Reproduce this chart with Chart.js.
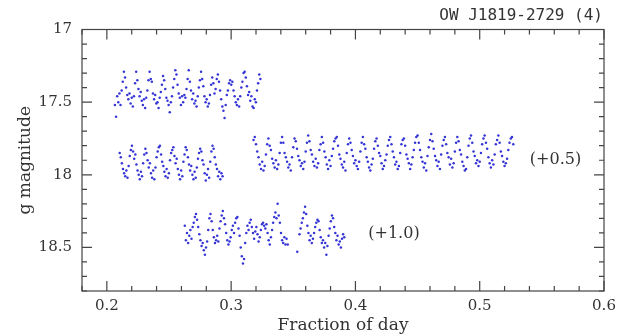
<!DOCTYPE html>
<html>
<head>
<meta charset="utf-8">
<script src="https://cdn.jsdelivr.net/npm/chart.js@4.4.1/dist/chart.umd.min.js"></script>
<style>
  html, body { margin: 0; padding: 0; background: #fff; }
  #wrap { width: 629px; height: 336px; }
</style>
</head>
<body>
<div id="wrap"><canvas id="lightCurve"></canvas></div>
<script>
// 觀測資料: [時間(fraction of day), g 星等]
const topBand = [
  [0.2065,17.52],[0.2074,17.60],[0.2083,17.46],[0.2092,17.50],[0.2101,17.44],[0.2110,17.52],
  [0.2119,17.42],[0.2128,17.36],[0.2137,17.29],[0.2146,17.33],[0.2155,17.40],[0.2164,17.45],
  [0.2173,17.48],[0.2182,17.44],[0.2191,17.51],[0.2200,17.47],[0.2209,17.53],[0.2218,17.46],
  [0.2227,17.37],[0.2236,17.29],[0.2245,17.35],[0.2254,17.41],[0.2263,17.46],[0.2272,17.43],
  [0.2281,17.49],[0.2290,17.52],[0.2299,17.48],[0.2308,17.54],[0.2317,17.47],[0.2326,17.42],
  [0.2335,17.35],[0.2344,17.29],[0.2353,17.34],[0.2362,17.36],[0.2371,17.44],[0.2380,17.48],
  [0.2389,17.45],[0.2398,17.51],[0.2407,17.50],[0.2416,17.54],[0.2425,17.47],[0.2434,17.43],
  [0.2443,17.38],[0.2452,17.32],[0.2461,17.35],[0.2470,17.41],[0.2479,17.47],[0.2488,17.49],
  [0.2497,17.52],[0.2506,17.57],[0.2515,17.50],[0.2524,17.46],[0.2533,17.40],[0.2542,17.34],
  [0.2551,17.28],[0.2560,17.31],[0.2569,17.38],[0.2578,17.44],[0.2587,17.47],[0.2596,17.52],
  [0.2605,17.46],[0.2614,17.50],[0.2623,17.45],[0.2632,17.47],[0.2641,17.41],[0.2650,17.34],
  [0.2659,17.28],[0.2668,17.36],[0.2677,17.42],[0.2686,17.48],[0.2695,17.44],[0.2704,17.51],
  [0.2713,17.49],[0.2722,17.53],[0.2731,17.46],[0.2740,17.40],[0.2749,17.35],[0.2758,17.29],
  [0.2767,17.34],[0.2776,17.39],[0.2785,17.46],[0.2794,17.50],[0.2803,17.48],[0.2812,17.53],
  [0.2821,17.51],[0.2830,17.45],[0.2839,17.38],[0.2848,17.33],[0.2857,17.37],[0.2866,17.44],
  [0.2875,17.41],[0.2884,17.34],[0.2893,17.31],[0.2902,17.36],[0.2911,17.42],[0.2920,17.48],
  [0.2929,17.53],[0.2938,17.56],[0.2947,17.61],[0.2956,17.52],[0.2965,17.45],[0.2974,17.42],
  [0.2983,17.37],[0.2992,17.35],[0.3001,17.38],[0.3010,17.36],[0.3019,17.42],[0.3028,17.46],
  [0.3037,17.50],[0.3046,17.52],[0.3055,17.48],[0.3064,17.53],[0.3073,17.46],[0.3082,17.40],
  [0.3091,17.36],[0.3100,17.30],[0.3109,17.29],[0.3118,17.33],[0.3127,17.39],[0.3136,17.45],
  [0.3145,17.43],[0.3154,17.49],[0.3163,17.46],[0.3172,17.53],[0.3181,17.54],[0.3190,17.48],
  [0.3199,17.50],[0.3208,17.42],[0.3217,17.37],[0.3226,17.31],[0.3235,17.34]
];

const midLeft = [ // (+0.5)
  [0.2103,17.85],[0.2112,17.88],[0.2121,17.92],[0.2130,17.96],[0.2139,17.99],[0.2148,18.01],
  [0.2157,17.97],[0.2166,18.02],[0.2175,17.94],[0.2184,17.87],[0.2193,17.83],[0.2202,17.80],
  [0.2211,17.84],[0.2220,17.89],[0.2229,17.86],[0.2238,17.93],[0.2247,17.97],[0.2256,18.00],
  [0.2265,18.03],[0.2274,17.98],[0.2283,18.01],[0.2292,17.92],[0.2301,17.86],[0.2310,17.82],
  [0.2319,17.85],[0.2328,17.90],[0.2337,17.95],[0.2346,17.92],[0.2355,17.99],[0.2364,18.02],
  [0.2373,17.97],[0.2382,18.03],[0.2391,17.95],[0.2400,17.88],[0.2409,17.84],[0.2418,17.81],
  [0.2427,17.80],[0.2436,17.86],[0.2445,17.91],[0.2454,17.94],[0.2463,17.98],[0.2472,18.01],
  [0.2481,17.96],[0.2490,18.02],[0.2499,17.99],[0.2508,17.90],[0.2517,17.85],[0.2526,17.83],
  [0.2535,17.81],[0.2544,17.87],[0.2553,17.92],[0.2562,17.89],[0.2571,17.96],[0.2580,18.00],
  [0.2589,18.03],[0.2598,17.97],[0.2607,18.01],[0.2616,17.91],[0.2625,17.86],[0.2634,17.81],
  [0.2643,17.83],[0.2652,17.88],[0.2661,17.93],[0.2670,17.97],[0.2679,17.94],[0.2688,18.00],
  [0.2697,18.03],[0.2706,17.98],[0.2715,18.02],[0.2724,17.95],[0.2733,17.89],[0.2742,17.85],
  [0.2751,17.82],[0.2760,17.84],[0.2769,17.90],[0.2778,17.93],[0.2787,17.99],[0.2796,18.04],
  [0.2805,18.00],[0.2814,17.96],[0.2823,18.02],[0.2832,17.91],[0.2841,17.84],[0.2850,17.80],
  [0.2859,17.82],[0.2868,17.88],[0.2877,17.93],[0.2886,17.96],[0.2895,18.01],[0.2904,17.98],
  [0.2913,18.03],[0.2922,17.99],[0.2931,18.01]
];

const midRight = [ // (+0.5)
  [0.318,17.76],[0.319,17.74],[0.320,17.79],[0.321,17.84],[0.322,17.88],[0.323,17.93],[0.324,17.96],
  [0.325,17.91],[0.326,17.97],[0.327,17.94],[0.328,17.86],[0.329,17.79],[0.330,17.75],[0.331,17.80],
  [0.332,17.83],[0.333,17.89],[0.334,17.92],[0.335,17.95],[0.336,17.90],[0.337,17.96],[0.338,17.93],
  [0.339,17.85],[0.340,17.78],[0.341,17.74],[0.342,17.78],[0.343,17.85],[0.344,17.88],[0.345,17.91],
  [0.346,17.95],[0.347,17.93],[0.348,17.97],[0.349,17.88],[0.350,17.81],[0.351,17.75],[0.352,17.77],
  [0.353,17.82],[0.354,17.87],[0.355,17.90],[0.356,17.94],[0.357,17.92],[0.358,17.96],[0.359,17.91],
  [0.360,17.84],[0.361,17.78],[0.362,17.73],[0.363,17.77],[0.364,17.83],[0.365,17.86],[0.366,17.91],
  [0.367,17.94],[0.368,17.89],[0.369,17.95],[0.370,17.92],[0.371,17.83],[0.372,17.79],[0.373,17.74],
  [0.374,17.78],[0.375,17.84],[0.376,17.88],[0.377,17.93],[0.378,17.96],[0.379,17.90],[0.380,17.94],
  [0.381,17.87],[0.382,17.82],[0.383,17.77],[0.384,17.75],[0.385,17.74],[0.386,17.80],[0.387,17.86],
  [0.388,17.89],[0.389,17.93],[0.390,17.95],[0.391,17.91],[0.392,17.97],[0.393,17.85],[0.394,17.79],
  [0.395,17.75],[0.396,17.78],[0.397,17.83],[0.398,17.87],[0.399,17.92],[0.400,17.90],[0.401,17.94],
  [0.402,17.96],[0.403,17.91],[0.404,17.84],[0.405,17.78],[0.406,17.74],[0.407,17.79],[0.408,17.82],
  [0.409,17.88],[0.410,17.91],[0.411,17.95],[0.412,17.97],[0.413,17.93],[0.414,17.89],[0.415,17.82],
  [0.416,17.77],[0.417,17.75],[0.418,17.80],[0.419,17.85],[0.420,17.87],[0.421,17.92],[0.422,17.96],
  [0.423,17.94],[0.424,17.90],[0.425,17.86],[0.426,17.80],[0.427,17.76],[0.428,17.74],[0.429,17.79],
  [0.430,17.84],[0.431,17.88],[0.432,17.93],[0.433,17.91],[0.434,17.96],[0.435,17.94],[0.436,17.85],
  [0.437,17.79],[0.438,17.76],[0.439,17.75],[0.440,17.80],[0.441,17.86],[0.442,17.89],[0.443,17.92],
  [0.444,17.96],[0.445,17.93],[0.446,17.88],[0.447,17.83],[0.448,17.78],[0.449,17.74],[0.450,17.73],
  [0.451,17.78],[0.452,17.83],[0.453,17.88],[0.454,17.91],[0.455,17.95],[0.456,17.92],[0.457,17.97],
  [0.458,17.87],[0.459,17.81],[0.460,17.76],[0.461,17.72],[0.462,17.77],[0.463,17.82],[0.464,17.87],
  [0.465,17.90],[0.466,17.94],[0.467,17.91],[0.468,17.96],[0.469,17.86],[0.470,17.80],[0.471,17.76],
  [0.472,17.74],[0.473,17.79],[0.474,17.85],[0.475,17.88],[0.476,17.93],[0.477,17.89],[0.478,17.95],
  [0.479,17.92],[0.480,17.84],[0.481,17.78],[0.482,17.74],[0.483,17.77],[0.484,17.83],[0.485,17.86],
  [0.486,17.91],[0.487,17.94],[0.488,17.97],[0.489,17.96],[0.490,17.88],[0.491,17.80],[0.492,17.75],
  [0.493,17.73],[0.494,17.78],[0.495,17.84],[0.496,17.87],[0.497,17.92],[0.498,17.90],[0.499,17.94],
  [0.500,17.91],[0.501,17.85],[0.502,17.79],[0.503,17.75],[0.504,17.73],[0.505,17.78],[0.506,17.82],
  [0.507,17.88],[0.508,17.92],[0.509,17.95],[0.510,17.90],[0.511,17.93],[0.512,17.86],[0.513,17.79],
  [0.514,17.76],[0.515,17.73],[0.516,17.78],[0.517,17.84],[0.518,17.87],[0.519,17.91],[0.520,17.94],
  [0.521,17.92],[0.522,17.89],[0.523,17.83],[0.524,17.78],[0.525,17.75],[0.526,17.74],[0.527,17.79]
];

const lowBand = [ // (+1.0)
  [0.2627,18.35],[0.2636,18.45],[0.2645,18.40],[0.2654,18.47],[0.2663,18.42],[0.2672,18.38],
  [0.2681,18.44],[0.2690,18.36],[0.2699,18.33],[0.2708,18.29],[0.2717,18.27],[0.2726,18.31],
  [0.2735,18.36],[0.2744,18.41],[0.2753,18.45],[0.2762,18.49],[0.2771,18.47],[0.2780,18.52],
  [0.2789,18.55],[0.2798,18.50],[0.2807,18.46],[0.2816,18.38],[0.2825,18.30],[0.2834,18.27],
  [0.2843,18.32],[0.2852,18.38],[0.2861,18.43],[0.2870,18.47],[0.2879,18.45],[0.2888,18.42],
  [0.2897,18.46],[0.2906,18.37],[0.2915,18.32],[0.2924,18.28],[0.2933,18.25],[0.2942,18.30],
  [0.2951,18.34],[0.2960,18.40],[0.2969,18.45],[0.2978,18.48],[0.2987,18.46],[0.2996,18.43],
  [0.3005,18.38],[0.3014,18.35],[0.3023,18.40],[0.3032,18.33],[0.3041,18.30],[0.3050,18.29],
  [0.3059,18.37],[0.3068,18.42],[0.3077,18.50],[0.3086,18.56],[0.3095,18.61],[0.3104,18.58],
  [0.3113,18.47],[0.3122,18.40],[0.3131,18.35],[0.3140,18.38],[0.3149,18.33],[0.3158,18.31],
  [0.3167,18.36],[0.3176,18.40],[0.3185,18.44],[0.3194,18.39],[0.3203,18.36],[0.3212,18.41],
  [0.3221,18.46],[0.3230,18.43],[0.3239,18.38],[0.3248,18.34],[0.3257,18.33],[0.3266,18.35],
  [0.3275,18.37],[0.3284,18.34],[0.3293,18.40],[0.3302,18.45],[0.3311,18.48],[0.3320,18.43],
  [0.3329,18.38],[0.3338,18.33],[0.3347,18.29],[0.3356,18.26],[0.3365,18.30],[0.3374,18.20],
  [0.3383,18.28],[0.3392,18.33],[0.3401,18.40],[0.3410,18.45],[0.3419,18.47],[0.3428,18.43],
  [0.3437,18.48],[0.3446,18.44],[0.3455,18.48],
  [0.3532,18.53],[0.3550,18.41],[0.3559,18.37],[0.3568,18.33],[0.3577,18.30],[0.3586,18.26],
  [0.3595,18.22],[0.3604,18.27],[0.3613,18.35],[0.3622,18.40],[0.3631,18.45],[0.3640,18.42],
  [0.3649,18.47],[0.3658,18.44],[0.3667,18.40],[0.3676,18.36],[0.3685,18.33],[0.3694,18.31],
  [0.3703,18.32],[0.3712,18.38],[0.3721,18.43],[0.3730,18.47],[0.3739,18.45],[0.3748,18.50],
  [0.3757,18.47],[0.3766,18.55],[0.3775,18.49],[0.3784,18.42],[0.3793,18.37],[0.3802,18.32],
  [0.3811,18.28],[0.3820,18.30],[0.3829,18.36],[0.3838,18.40],[0.3847,18.45],[0.3856,18.42],
  [0.3865,18.48],[0.3874,18.46],[0.3883,18.50],[0.3892,18.44],[0.3901,18.41],[0.3910,18.43]
];

const xTicks = [0.2, 0.3, 0.4, 0.5, 0.6];
const yTicks = [17, 17.5, 18, 18.5];
const offsetLabels = [
  { text: '(+0.5)', x: 0.561, y: 17.90 },
  { text: '(+1.0)', x: 0.431, y: 18.405 }
];
const chartTitle = 'OW J1819-2729 (4)';

const dotColor = '#3535d6';
const inkColor = '#333';
const serif = "'DejaVu Serif', 'Liberation Serif', serif";

// 外框、向內刻度、標題與偏移標籤
const framePlugin = {
  id: 'frame',
  afterDraw(chart) {
    const { ctx, chartArea: a, scales: { x, y } } = chart;
    ctx.save();
    ctx.strokeStyle = '#444';
    ctx.lineWidth = 1.2;
    ctx.strokeRect(a.left, a.top, a.right - a.left, a.bottom - a.top);

    ctx.beginPath();
    // x 軸刻度 (每 0.02 一個小刻度)
    for (let i = 9; i <= 30; i++) {
      const px = x.getPixelForValue(i * 0.02);
      const len = (i % 5 === 0) ? 10 : 5;
      ctx.moveTo(px, a.bottom); ctx.lineTo(px, a.bottom - len);
      ctx.moveTo(px, a.top); ctx.lineTo(px, a.top + len);
    }
    // y 軸刻度 (每 0.1 一個小刻度)
    for (let i = 170; i <= 188; i++) {
      const py = y.getPixelForValue(i / 10);
      const len = (i % 5 === 0) ? 10 : 5;
      ctx.moveTo(a.left, py); ctx.lineTo(a.left + len, py);
      ctx.moveTo(a.right, py); ctx.lineTo(a.right - len, py);
    }
    ctx.stroke();

    ctx.fillStyle = inkColor;
    ctx.font = "16px 'DejaVu Sans Mono', monospace";
    ctx.textAlign = 'right';
    ctx.textBaseline = 'middle';
    ctx.fillText(chartTitle, a.right - 1, 16);

    ctx.font = '16px ' + serif;
    ctx.textAlign = 'center';
    offsetLabels.forEach(l => {
      ctx.fillText(l.text, x.getPixelForValue(l.x), y.getPixelForValue(l.y));
    });
    ctx.restore();
  }
};

const pointStyle = {
  backgroundColor: dotColor,
  borderWidth: 0,
  pointRadius: 1.25,
  pointHoverRadius: 1.25,
  showLine: false
};

new Chart(document.getElementById('lightCurve'), {
  type: 'scatter',
  data: {
    datasets: [
      { label: 'g', data: topBand, ...pointStyle },
      { label: 'g +0.5 (a)', data: midLeft, ...pointStyle },
      { label: 'g +0.5 (b)', data: midRight, ...pointStyle },
      { label: 'g +1.0', data: lowBand, ...pointStyle }
    ]
  },
  options: {
    responsive: true,
    maintainAspectRatio: false,
    animation: false,
    devicePixelRatio: 1,
    layout: { padding: { top: 29.5, right: 25, left: 0, bottom: 0 } },
    plugins: { legend: { display: false }, tooltip: { enabled: false } },
    scales: {
      x: {
        type: 'linear',
        min: 0.18,
        max: 0.6,
        grid: { display: false, drawTicks: false },
        border: { display: false },
        afterBuildTicks: s => { s.ticks = xTicks.map(v => ({ value: v })); },
        afterFit: s => { s.height = 45; },
        ticks: {
          color: inkColor,
          padding: 6,
          font: { family: serif, size: 15 },
          callback: v => String(v)
        },
        title: {
          display: true,
          text: 'Fraction of day',
          color: inkColor,
          font: { family: serif, size: 17 },
          padding: { top: 0, bottom: 0 }
        }
      },
      y: {
        type: 'linear',
        reverse: true,
        min: 17,
        max: 18.8,
        grid: { display: false, drawTicks: false },
        border: { display: false },
        afterBuildTicks: s => { s.ticks = yTicks.map(v => ({ value: v })); },
        afterFit: s => { s.width = 82; },
        ticks: {
          color: inkColor,
          padding: 10,
          font: { family: serif, size: 15 },
          callback: v => String(v)
        },
        title: {
          display: true,
          text: 'g magnitude',
          color: inkColor,
          font: { family: serif, size: 17 },
          padding: { top: 15, bottom: 0 }
        }
      }
    }
  },
  plugins: [framePlugin]
});
</script>
</body>
</html>
